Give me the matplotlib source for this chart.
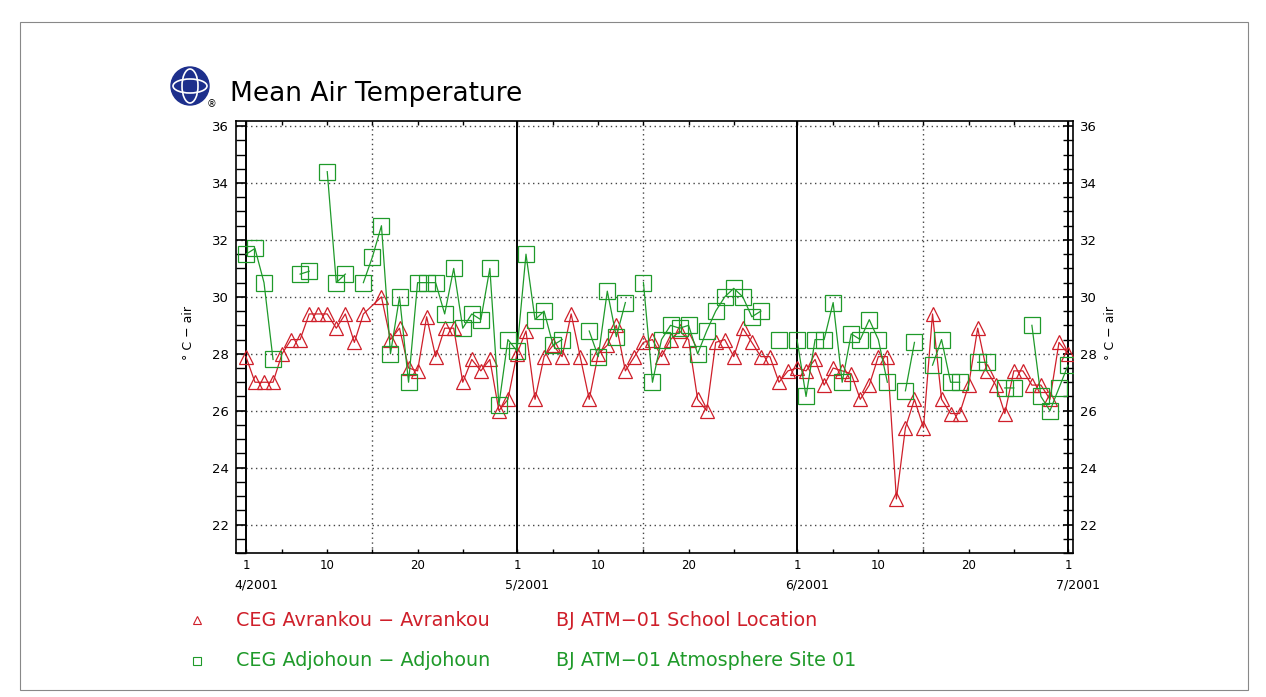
import numpy as np
import matplotlib.pyplot as plt
from matplotlib.lines import Line2D
from matplotlib.patches import Ellipse, Rectangle

nan = np.nan

# daily mean air temperature (deg C), 1 Apr 2001 .. 1 Jul 2001
red_apr = [27.9, 27.0, 27.0, 27.0, 28.0, 28.5, 28.5, 29.4, 29.4, 29.4,
           28.9, 29.4, 28.4, 29.4, nan, 30.0, 28.5, 28.9, 27.5, 27.4,
           29.3, 27.9, 28.9, 28.9, 27.0, 27.8, 27.4, 27.8, 26.0, 26.4]
red_may = [28.0, 28.8, 26.4, 27.9, 28.3, 27.9, 29.4, 27.9, 26.4, 28.0,
           28.3, 29.0, 27.4, 27.9, 28.4, 28.5, 27.9, 28.5, 28.8, 28.5,
           26.4, 26.0, 28.4, 28.5, 27.9, 28.9, 28.4, 27.9, 27.9, 27.0,
           27.4]
red_jun = [27.5, 27.4, 27.8, 26.9, 27.5, 27.4, 27.3, 26.4, 26.9, 27.9,
           27.9, 22.9, 25.4, 26.4, 25.4, 29.4, 26.4, 25.9, 25.9, 26.9,
           28.9, 27.4, 26.9, 25.9, 27.4, 27.4, 26.9, 26.9, 26.4, 28.4]
red_jul = [28.0]

green_apr = [31.5, 31.7, 30.5, 27.8, nan, nan, 30.8, 30.9, nan, 34.4,
             30.5, 30.8, nan, 30.5, 31.4, 32.5, 28.0, 30.0, 27.0, 30.5,
             30.5, 30.5, 29.4, 31.0, 28.9, 29.4, 29.2, 31.0, 26.2, 28.5]
green_may = [28.1, 31.5, 29.2, 29.5, 28.3, 28.5, nan, nan, 28.8, 27.9,
             30.2, 28.6, 29.8, nan, 30.5, 27.0, 28.5, 29.0, 28.9, 29.0,
             28.0, 28.8, 29.5, 30.0, 30.3, 30.0, 29.3, 29.5, nan, 28.5,
             nan]
green_jun = [28.5, 26.5, 28.5, 28.5, 29.8, 27.0, 28.7, 28.5, 29.2, 28.5,
             27.0, nan, 26.7, 28.4, nan, 27.6, 28.5, 27.0, 27.0, nan,
             27.7, 27.7, nan, 26.8, 26.8, nan, 29.0, 26.5, 26.0, 26.8]
green_jul = [27.6]

month_start = [0, 30, 61, 91]          # day index of the 1st of Apr..Jul
month_labels = ['4/2001', '5/2001', '6/2001', '7/2001']
series_names = [('CEG Avrankou \u2212 Avrankou', 'BJ ATM\u221201 School Location'),
                ('CEG Adjohoun \u2212 Adjohoun', 'BJ ATM\u221201 Atmosphere Site 01')]

RED = '#cf1f2a'
GREEN = '#1f9a2a'

red = np.array(red_apr + red_may + red_jun + red_jul)
green = np.array(green_apr + green_may + green_jun + green_jul)
days = np.arange(len(red))

plt.rcParams['font.family'] = ['DejaVu Sans']

W, H = 1266, 697
fig = plt.figure(figsize=(W / 100, H / 100), dpi=100)

# outer frame
fig.add_artist(Rectangle((20 / W, 1 - 690 / H), 1228 / W, 668 / H,
                         transform=fig.transFigure, fill=False,
                         edgecolor='#888888', lw=0.8))

ax = fig.add_axes([236 / W, 1 - 553 / H, 837 / W, 432 / H])
ax.set_xlim(-1.1, 91.55)
ax.set_ylim(21.0, 36.18)

# grid: dotted horizontals, dotted mid-month verticals, solid month lines
for v in range(22, 37, 2):
    ax.axhline(v, color='#444444', ls=(0, (1, 2.5)), lw=1.0, zorder=1)
for m in month_start[:3]:
    ax.axvline(m + 14, color='#444444', ls=(0, (1, 2.5)), lw=1.0, zorder=1)
for m in month_start:
    ax.axvline(m, color='black', lw=1.4, zorder=1)

# red record has a missing day but its line runs through
ok = ~np.isnan(red)
ax.plot(days[ok], red[ok], color=RED, lw=0.9, marker='^', ms=10, mfc='none',
        mec=RED, mew=0.9, zorder=3)
ax.plot(days, green, color=GREEN, lw=0.9, marker='s', ms=11, mfc='none',
        mec=GREEN, mew=0.9, zorder=4)

# y axis: ticks both sides, inward
ax.set_yticks(range(22, 37, 2))
ax.set_yticks(np.arange(21, 36.01, 0.5), minor=True)
ax.tick_params(axis='y', which='both', direction='in', left=True, right=True,
               labelleft=True, labelright=True, length=7, width=1.2,
               labelsize=9.5, pad=5)
ax.tick_params(axis='y', which='minor', length=7, width=1.0)

# x axis: day-of-month ticks
xt, xl = [], []
for m in month_start[:3]:
    for d in (1, 10, 20):
        xt.append(m + d - 1)
        xl.append(str(d))
xt.append(month_start[3])
xl.append('1')
ax.set_xticks(xt)
ax.set_xticklabels(xl)
minor = [m + d - 1 for m in month_start[:3] for d in (5, 15, 25)]
ax.set_xticks(minor, minor=True)
ax.tick_params(axis='x', which='both', direction='in', top=True, bottom=True,
               length=3, width=1.0, labelsize=8.5, pad=4)
for m, lab in zip(month_start, month_labels):
    ax.text(m + 1.1, -0.058, lab, transform=ax.get_xaxis_transform(),
            ha='center', va='top', fontsize=9)

for s in ax.spines.values():
    s.set_linewidth(1.2)

fig.text(189 / W, 1 - 333 / H, '\u00b0 C \u2212 air', rotation=90,
         ha='center', va='center', fontsize=9)
fig.text(1110 / W, 1 - 333 / H, '\u00b0 C \u2212 air', rotation=90,
         ha='center', va='center', fontsize=9)

# title and logo
fig.text(230 / W, 1 - 94 / H, 'Mean Air Temperature', ha='left',
         va='center', fontsize=19)
cx, cy = 190 / W, 1 - 86 / H
fig.add_artist(Ellipse((cx, cy), 38 / W, 38 / H, transform=fig.transFigure,
                       color='#1d2f8c', zorder=5))
fig.add_artist(Ellipse((cx, cy), 16 / W, 34 / H, transform=fig.transFigure,
                       fill=False, edgecolor='white', lw=1.2, zorder=6))
fig.add_artist(Ellipse((cx, cy), 34 / W, 14 / H, transform=fig.transFigure,
                       fill=False, edgecolor='white', lw=1.2, zorder=6))
fig.text(211 / W, 1 - 104 / H, '\u00ae', fontsize=7, ha='center', va='center')

# legend below the plot
rows = [(620, '^', RED), (661, 's', GREEN)]
for (y, mk, col), (site, loc) in zip(rows, series_names):
    fig.add_artist(Line2D([197 / W], [1 - y / H], marker=mk, ms=6, mfc='none',
                          mec=col, mew=0.8, transform=fig.transFigure))
    fig.text(236 / W, 1 - y / H, site, color=col, fontsize=13.8,
             ha='left', va='center')
    fig.text(556 / W, 1 - y / H, loc, color=col, fontsize=13.8,
             ha='left', va='center')

fig.savefig('out.png', dpi=100)
